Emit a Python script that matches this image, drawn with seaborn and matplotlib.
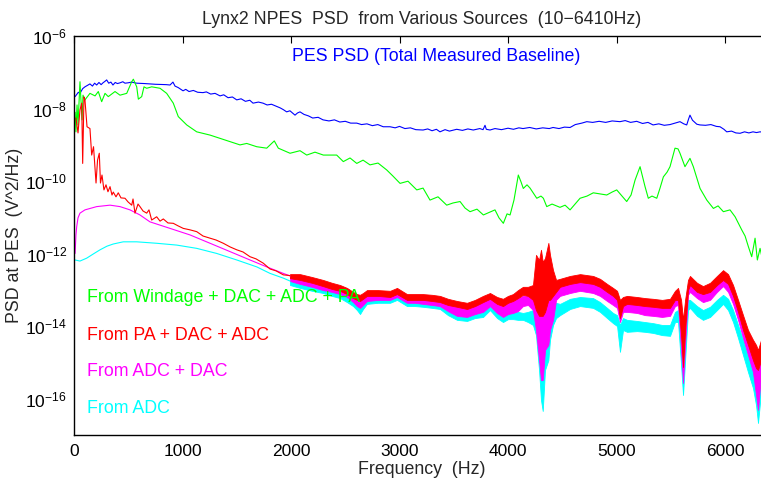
import numpy as np
import matplotlib
matplotlib.use('Agg')
import matplotlib.pyplot as plt
import seaborn as sns
from matplotlib.ticker import FixedLocator, NullLocator

sns.set_theme(style='white')
plt.rcParams['font.family'] = ['Liberation Sans', 'DejaVu Sans']
plt.rcParams['mathtext.default'] = 'regular'

# values are log10(PSD), frequencies in Hz

# total measured baseline (blue)
blue_freq = [10, 40, 55, 80, 101, 125, 147, 170, 190, 209, 230, 250, 267, 285, 301, 320, 340, 359, 380, 400,
             424, 450, 470, 498, 530, 578, 650, 750, 850, 885, 912, 931, 960, 1005, 1030, 1060, 1100, 1140, 1189, 1220,
             1260, 1300, 1346, 1380, 1420, 1460, 1500, 1540, 1580, 1620, 1650, 1700, 1742, 1780, 1820, 1868, 1900, 1930, 1960, 1990,
             2037, 2060, 2083, 2120, 2160, 2200, 2250, 2295, 2350, 2400, 2450, 2500, 2550, 2606, 2650, 2700, 2750, 2800, 2850, 2913,
             2960, 3000, 3050, 3100, 3150, 3217, 3260, 3300, 3340, 3373, 3420, 3460, 3527, 3580, 3630, 3680, 3740, 3770, 3788, 3800,
             3834, 3880, 3940, 4000, 4050, 4100, 4138, 4200, 4260, 4320, 4380, 4415, 4470, 4520, 4572, 4620, 4680, 4726, 4780, 4840,
             4900, 4960, 5032, 5080, 5130, 5186, 5240, 5290, 5337, 5390, 5440, 5493, 5540, 5585, 5620, 5647, 5665, 5677, 5700, 5740,
             5769, 5820, 5870, 5920, 5954, 5990, 6016, 6060, 6100, 6139, 6180, 6220, 6258, 6290, 6323, 6369]
blue_exp = [-7.67, -7.55, -7.58, -7.45, -7.40, -7.36, -7.32, -7.38, -7.30, -7.35, -7.28, -7.34, -7.29, -7.25, -7.21, -7.30, -7.27, -7.35, -7.28, -7.31,
            -7.29, -7.26, -7.30, -7.29, -7.27, -7.30, -7.31, -7.33, -7.34, -7.35, -7.27, -7.38, -7.42, -7.51, -7.47, -7.53, -7.50, -7.55, -7.56, -7.54,
            -7.60, -7.58, -7.65, -7.62, -7.70, -7.68, -7.76, -7.73, -7.80, -7.77, -7.85, -7.82, -7.85, -7.90, -7.88, -7.94, -7.98, -8.03, -8.09, -8.06,
            -8.18, -8.12, -8.09, -8.16, -8.20, -8.26, -8.24, -8.31, -8.34, -8.31, -8.37, -8.35, -8.40, -8.40, -8.44, -8.42, -8.47, -8.44, -8.50, -8.50,
            -8.53, -8.49, -8.55, -8.53, -8.58, -8.59, -8.56, -8.61, -8.57, -8.64, -8.58, -8.62, -8.57, -8.60, -8.56, -8.59, -8.55, -8.58, -8.46, -8.57,
            -8.59, -8.55, -8.58, -8.54, -8.57, -8.53, -8.55, -8.52, -8.56, -8.53, -8.55, -8.52, -8.55, -8.51, -8.52, -8.44, -8.40, -8.36, -8.38, -8.35,
            -8.38, -8.34, -8.36, -8.33, -8.38, -8.35, -8.41, -8.38, -8.45, -8.42, -8.46, -8.44, -8.40, -8.36, -8.42, -8.45, -8.28, -8.18, -8.32, -8.43,
            -8.45, -8.46, -8.44, -8.49, -8.50, -8.57, -8.64, -8.62, -8.67, -8.68, -8.64, -8.67, -8.64, -8.66, -8.64, -8.66]

# windage + DAC + ADC + PA (green)
green_freq = [10, 18, 28, 37, 55, 74, 83, 101, 147, 194, 224, 255, 286, 316, 378, 424, 486, 532, 547, 578,
              593, 624, 645, 670, 716, 793, 854, 915, 961, 1039, 1131, 1254, 1346, 1438, 1530, 1592, 1684, 1776, 1846, 1883,
              1991, 2083, 2145, 2221, 2298, 2421, 2482, 2544, 2606, 2664, 2728, 2802, 2882, 2940, 3005, 3078, 3159, 3217, 3281, 3355,
              3435, 3493, 3558, 3604, 3650, 3714, 3773, 3834, 3880, 3917, 3957, 3991, 4019, 4055, 4095, 4120, 4141, 4175, 4203, 4265,
              4304, 4326, 4357, 4406, 4479, 4526, 4572, 4618, 4664, 4728, 4786, 4848, 4910, 4959, 5002, 5051, 5094, 5134, 5171, 5217,
              5263, 5293, 5327, 5371, 5401, 5432, 5466, 5493, 5539, 5567, 5585, 5631, 5677, 5708, 5770, 5832, 5893, 5936, 5985, 6046,
              6093, 6154, 6185, 6215, 6246, 6277, 6298, 6323, 6350]
green_exp = [-8.10, -8.64, -7.90, -8.45, -7.26, -8.31, -7.63, -7.76, -7.58, -7.65, -7.53, -7.81, -7.58, -7.67, -7.53, -7.63, -7.58, -7.26, -7.19, -7.40,
             -7.74, -7.67, -7.40, -7.44, -7.40, -7.44, -7.58, -7.85, -8.22, -8.45, -8.64, -8.73, -8.82, -8.91, -9.00, -8.96, -9.05, -9.09, -8.89, -9.09,
             -9.23, -9.16, -9.28, -9.20, -9.28, -9.28, -9.46, -9.36, -9.51, -9.42, -9.55, -9.50, -9.69, -9.86, -10.06, -10.00, -10.24, -10.19, -10.52, -10.43,
             -10.66, -10.60, -10.56, -10.74, -10.84, -10.77, -10.93, -10.85, -10.79, -11.01, -11.16, -10.90, -10.93, -10.52, -9.83, -10.02, -10.20, -10.10, -10.19, -10.47,
             -10.41, -10.47, -10.70, -10.63, -10.72, -10.66, -10.79, -10.63, -10.47, -10.41, -10.32, -10.35, -10.38, -10.30, -10.24, -10.41, -10.56, -10.38, -9.97, -9.60,
             -10.15, -10.47, -10.41, -10.47, -10.19, -9.88, -9.75, -9.60, -9.09, -9.11, -9.23, -9.60, -9.37, -9.60, -10.20, -10.52, -10.75, -10.68, -10.84, -10.79,
             -10.98, -11.34, -11.51, -11.80, -12.08, -11.57, -12.17, -11.85, -12.22]

# low-frequency parts (single thin traces)
red_freq = [18, 37, 55, 71, 80, 92, 101, 120, 147, 163, 180, 203, 217, 233, 244, 258, 276, 295, 313, 332,
            350, 362, 387, 408, 433, 470, 498, 532, 544, 562, 590, 608, 636, 670, 691, 716, 762, 793, 823, 866,
            915, 959, 1007, 1069, 1131, 1189, 1254, 1309, 1376, 1438, 1500, 1558, 1622, 1678, 1745, 1807, 1862, 1929, 1991]
red_exp = [-8.26, -8.67, -8.04, -7.85, -9.51, -7.68, -7.76, -8.50, -8.55, -9.28, -9.05, -10.05, -9.42, -9.23, -10.05, -9.83, -10.24, -10.10, -10.29, -10.15,
           -10.38, -10.30, -10.43, -10.32, -10.46, -10.47, -10.57, -10.66, -10.49, -10.88, -10.63, -10.70, -10.82, -10.88, -10.79, -11.07, -10.98, -11.10, -11.04, -11.15,
           -11.16, -11.23, -11.30, -11.34, -11.39, -11.51, -11.57, -11.62, -11.71, -11.81, -11.89, -11.95, -12.08, -12.14, -12.26, -12.42, -12.47, -12.58, -12.60]

mag_freq = [10, 18, 25, 37, 55, 101, 209, 332, 424, 516, 608, 700, 885, 1069, 1254, 1438, 1622, 1776, 1929, 1991]
mag_exp = [-11.99, -11.48, -11.25, -11.01, -10.88, -10.79, -10.70, -10.66, -10.70, -10.79, -10.93, -11.12, -11.30, -11.48, -11.71, -11.94, -12.17, -12.36, -12.54, -12.61]

cyan_freq = [10, 55, 117, 175, 240, 304, 362, 454, 578, 762, 947, 1131, 1315, 1500, 1684, 1807, 1929, 1991]
cyan_exp = [-12.17, -12.20, -12.12, -12.01, -11.89, -11.79, -11.73, -11.67, -11.67, -11.71, -11.76, -11.85, -11.99, -12.17, -12.36, -12.54, -12.67, -12.75]

# high-frequency parts: noisy traces drawn as upper / lower envelopes
band_freq = [1991, 2083, 2194, 2295, 2378, 2452, 2516, 2572, 2608, 2636, 2664, 2700, 2802, 2913, 2977, 3069, 3143, 3217, 3300, 3373,
             3447, 3530, 3622, 3696, 3770, 3834, 3899, 3954, 4000, 4046, 4092, 4138, 4184, 4230, 4258, 4286, 4304, 4320, 4341, 4372,
             4387, 4415, 4443, 4479, 4572, 4664, 4784, 4848, 4913, 4968, 5005, 5032, 5060, 5097, 5189, 5263, 5337, 5420, 5493, 5539,
             5567, 5595, 5613, 5632, 5659, 5677, 5742, 5797, 5862, 5926, 5982, 6028, 6074, 6120, 6166, 6212, 6258, 6286, 6304, 6332, 6369]
red_hi = [-12.56, -12.56, -12.64, -12.72, -12.80, -12.86, -12.94, -13.05, -13.11, -13.13, -13.08, -13.00, -13.00, -13.02, -12.94, -13.11, -13.11, -13.11, -13.13, -13.16,
          -13.24, -13.30, -13.35, -13.27, -13.16, -13.08, -13.19, -13.24, -13.16, -13.11, -13.00, -12.91, -12.91, -12.86, -12.03, -12.17, -11.89, -12.22, -12.12, -11.70,
          -12.03, -12.45, -12.72, -12.69, -12.61, -12.56, -12.61, -12.69, -12.83, -12.94, -13.02, -13.27, -13.19, -13.16, -13.19, -13.22, -13.24, -13.27, -13.24, -13.02,
          -12.94, -13.27, -13.82, -13.27, -12.72, -12.61, -12.80, -12.89, -12.80, -12.61, -12.45, -12.56, -12.86, -13.27, -13.69, -14.10, -14.37, -14.51, -14.65, -14.37, -14.37]
red_lo = [-12.67, -12.72, -12.80, -12.89, -12.97, -13.02, -13.11, -13.22, -13.27, -13.30, -13.24, -13.16, -13.16, -13.19, -13.11, -13.27, -13.27, -13.27, -13.30, -13.33,
          -13.41, -13.46, -13.52, -13.44, -13.33, -13.24, -13.38, -13.44, -13.35, -13.30, -13.22, -13.13, -13.16, -13.27, -13.55, -13.71, -13.71, -13.71, -13.60, -13.27,
          -13.27, -13.16, -13.05, -12.91, -12.83, -12.78, -12.83, -12.91, -13.05, -13.16, -13.27, -13.77, -13.44, -13.38, -13.41, -13.44, -13.46, -13.49, -13.49, -13.27,
          -13.27, -14.24, -15.12, -14.10, -13.00, -12.86, -13.05, -13.11, -13.05, -12.86, -12.72, -12.83, -13.16, -13.60, -14.10, -14.51, -14.93, -15.15, -15.20, -14.93, -14.93]
mag_hi = [-12.61, -12.64, -12.72, -12.80, -12.89, -12.94, -13.02, -13.13, -13.19, -13.22, -13.16, -13.08, -13.08, -13.11, -13.02, -13.19, -13.19, -13.19, -13.22, -13.24,
          -13.33, -13.38, -13.44, -13.35, -13.24, -13.16, -13.30, -13.35, -13.33, -13.27, -13.22, -13.16, -13.16, -13.00, -12.94, -13.00, -13.05, -13.13, -13.05, -13.00,
          -13.00, -12.94, -12.91, -12.83, -12.78, -12.75, -12.80, -12.89, -13.02, -13.13, -13.22, -13.41, -13.33, -13.33, -13.35, -13.38, -13.41, -13.44, -13.44, -13.16,
          -13.08, -13.55, -14.10, -13.55, -12.86, -12.78, -12.97, -13.05, -12.97, -12.78, -12.61, -12.72, -13.02, -13.44, -13.88, -14.32, -14.65, -14.93, -15.20, -14.79, -14.79]
mag_lo = [-12.75, -12.83, -12.91, -13.00, -13.05, -13.11, -13.19, -13.33, -13.44, -13.49, -13.41, -13.30, -13.27, -13.27, -13.19, -13.35, -13.35, -13.38, -13.41, -13.44,
          -13.58, -13.71, -13.74, -13.66, -13.60, -13.44, -13.63, -13.74, -13.66, -13.63, -13.58, -13.44, -13.41, -13.55, -14.10, -14.93, -15.48, -15.48, -14.65, -14.51,
          -14.10, -13.82, -13.27, -13.16, -13.08, -13.02, -13.08, -13.16, -13.30, -13.41, -13.49, -13.88, -13.60, -13.60, -13.63, -13.69, -13.71, -13.74, -13.71, -13.44,
          -13.41, -14.65, -15.56, -14.51, -13.13, -13.05, -13.22, -13.33, -13.27, -13.05, -12.89, -13.05, -13.38, -13.82, -14.32, -14.79, -15.26, -15.89, -16.30, -15.34, -15.34]
cyan_hi = [-12.75, -12.78, -12.86, -12.91, -13.00, -13.05, -13.16, -13.24, -13.35, -13.44, -13.33, -13.22, -13.19, -13.19, -13.11, -13.27, -13.27, -13.30, -13.33, -13.35,
           -13.49, -13.63, -13.66, -13.58, -13.55, -13.35, -13.58, -13.69, -13.60, -13.60, -13.60, -13.63, -13.60, -13.55, -13.41, -13.55, -13.55, -13.69, -13.60, -13.55,
           -13.49, -13.41, -13.35, -13.38, -13.24, -13.19, -13.22, -13.33, -13.49, -13.63, -13.69, -13.96, -13.77, -13.82, -13.85, -13.88, -13.91, -13.96, -13.96, -13.60,
           -13.55, -13.96, -14.51, -14.10, -13.27, -13.27, -13.44, -13.55, -13.46, -13.27, -13.13, -13.24, -13.55, -13.96, -14.37, -14.79, -15.15, -15.34, -15.61, -15.26, -15.26]
cyan_lo = [-12.86, -12.94, -13.02, -13.08, -13.16, -13.22, -13.33, -13.44, -13.55, -13.66, -13.52, -13.38, -13.35, -13.35, -13.27, -13.44, -13.44, -13.46, -13.49, -13.52,
           -13.69, -13.82, -13.85, -13.77, -13.74, -13.55, -13.77, -13.88, -13.80, -13.80, -13.82, -13.82, -13.88, -13.96, -14.24, -15.20, -16.03, -16.33, -15.20, -14.93,
           -14.37, -13.96, -13.77, -13.69, -13.52, -13.44, -13.49, -13.60, -13.77, -13.91, -13.99, -14.70, -14.10, -14.15, -14.13, -14.15, -14.18, -14.24, -14.26, -13.88,
           -13.88, -15.06, -15.89, -14.93, -13.55, -13.49, -13.71, -13.82, -13.74, -13.55, -13.38, -13.55, -13.88, -14.32, -14.79, -15.26, -15.70, -16.17, -16.66, -15.81, -15.81]

BLUE, GREEN, RED, MAG, CYAN = '#0000ff', '#00ff00', '#ff0000', '#ff00ff', '#00ffff'
FS = 12.8

fig = plt.figure(figsize=(7.61, 4.82), dpi=100)
ax = fig.add_axes([74 / 761, 46.7 / 482, 695.5 / 761, 399.3 / 482])

def p(v):
    return 10.0 ** np.asarray(v)

sns.lineplot(x=blue_freq, y=p(blue_exp), color=BLUE, lw=0.8, ax=ax, estimator=None, sort=False)
sns.lineplot(x=green_freq, y=p(green_exp), color=GREEN, lw=0.8, ax=ax, estimator=None, sort=False)

# noisy traces: cyan first, red on top
for f_lo, e_lo, hi, lo, c in [(cyan_freq, cyan_exp, cyan_hi, cyan_lo, CYAN),
                              (mag_freq, mag_exp, mag_hi, mag_lo, MAG),
                              (red_freq, red_exp, red_hi, red_lo, RED)]:
    sns.lineplot(x=f_lo, y=p(e_lo), color=c, lw=0.8, ax=ax, estimator=None, sort=False)
    ax.fill_between(band_freq, p(lo), p(hi), color=c, lw=0.6)

ax.set_yscale('log')
ax.set_xlim(0, 6410)
ax.set_ylim(1e-17, 1e-6)

ax.xaxis.set_major_locator(FixedLocator(range(0, 7000, 1000)))
ax.set_xticklabels([str(v) for v in range(0, 7000, 1000)])
yt = [10.0 ** k for k in range(-17, -5)]
ax.yaxis.set_major_locator(FixedLocator(yt))
ax.yaxis.set_minor_locator(NullLocator())
ax.set_yticklabels(['$10^{%d}$' % k if k % 2 == 0 else '' for k in range(-17, -5)])
ax.tick_params(axis='both', which='major', direction='in', top=True, right=True,
               length=5, width=0.8, labelsize=12.5, colors='black', pad=6)
ax.tick_params(axis='y', pad=5)
for s in ax.spines.values():
    s.set_color('black')
    s.set_linewidth(1.0)

ax.set_title('Lynx2 NPES  PSD  from Various Sources  (10\u22126410Hz)', fontsize=FS, pad=9)
ax.set_xlabel('Frequency  (Hz)', fontsize=FS, labelpad=2)
ax.set_ylabel('PSD at PES  (V^2/Hz)', fontsize=FS)
ax.yaxis.set_label_coords(-0.073, 0.5)

ax.text(0.314, 0.948, 'PES PSD (Total Measured Baseline)', color=BLUE, fontsize=FS,
        transform=ax.transAxes, va='center', ha='left')
ax.text(0.018, 0.344, 'From Windage + DAC + ADC + PA', color=GREEN, fontsize=FS,
        transform=ax.transAxes, va='center', ha='left')
ax.text(0.018, 0.251, 'From PA + DAC + ADC', color=RED, fontsize=FS,
        transform=ax.transAxes, va='center', ha='left')
ax.text(0.018, 0.159, 'From ADC + DAC', color=MAG, fontsize=FS,
        transform=ax.transAxes, va='center', ha='left')
ax.text(0.018, 0.068, 'From ADC', color=CYAN, fontsize=FS,
        transform=ax.transAxes, va='center', ha='left')

fig.savefig('out.png', dpi=100)
